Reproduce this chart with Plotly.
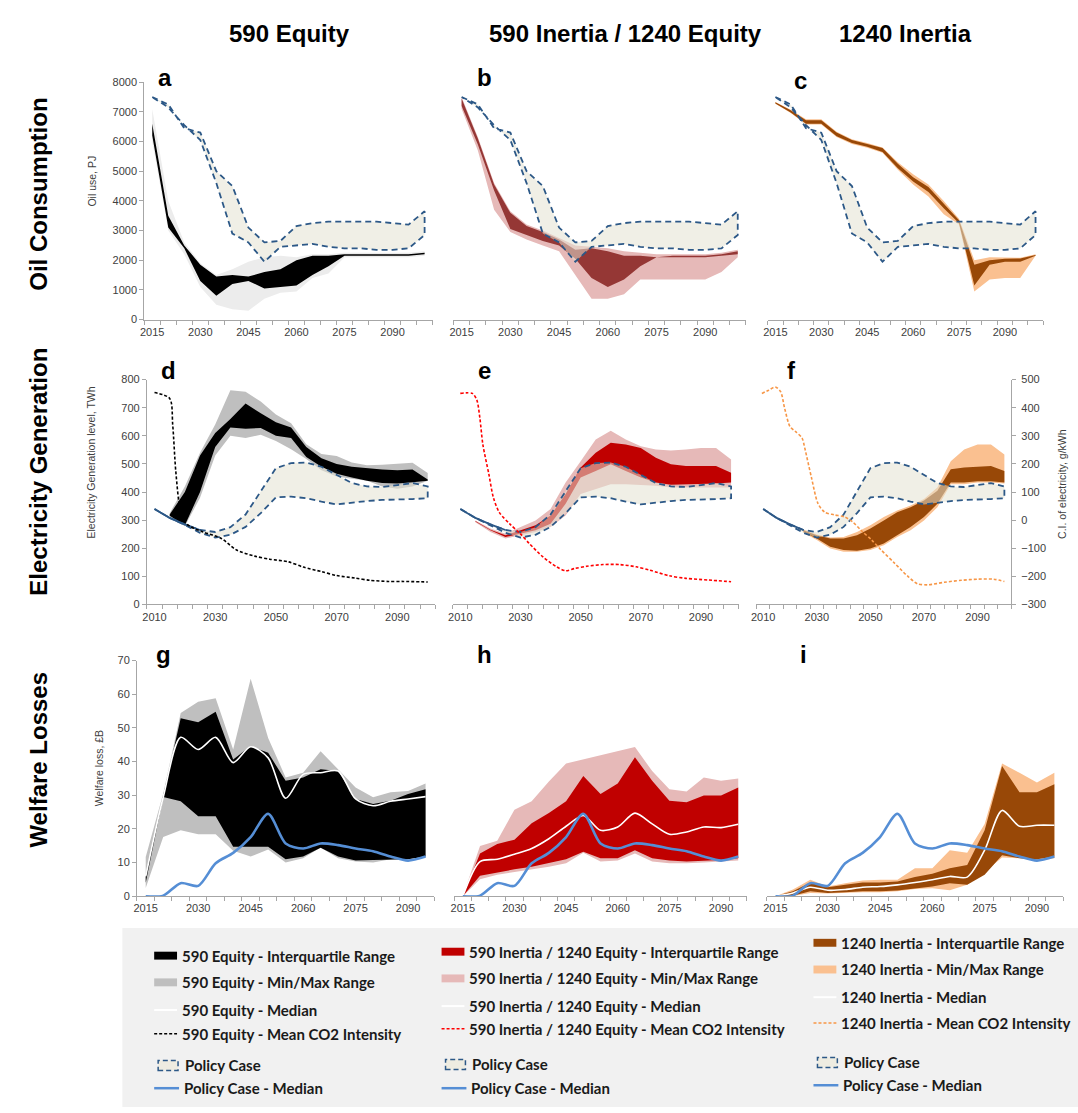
import plotly.graph_objects as go

W, H = 1078, 1113

# ---------------- categories ----------------
oil_years = list(range(2015, 2101, 5))      # 18 categories
elec_years = list(range(2010, 2101, 5))     # 19 categories
wel_years = list(range(2015, 2096, 5))      # 17 categories

oil_tick_labels = [2015, 2030, 2045, 2060, 2075, 2090]
elec_tick_labels = [2010, 2030, 2050, 2070, 2090]
wel_tick_labels = [2015, 2030, 2045, 2060, 2075, 2090]

# ---------------- Oil consumption (PJ) ----------------
oil_pol_hi = [7500, 7250, 6450, 6300, 5000, 4500, 3100, 2600, 2650, 3150, 3250, 3300, 3300, 3300, 3300, 3250, 3200, 3650]
oil_pol_lo = [7500, 7150, 6550, 6050, 4600, 2900, 2600, 1950, 2450, 2500, 2550, 2450, 2400, 2400, 2350, 2350, 2400, 2850]

a_iqr_hi = [6600, 3500, 2500, 1850, 1450, 1500, 1450, 1600, 1700, 2000, 2150, 2150, 2200, 2200, 2200, 2200, 2200, 2250]
a_iqr_lo = [6200, 3100, 2400, 1300, 800, 1200, 1300, 1050, 1100, 1150, 1500, 1800, 2150, 2150, 2150, 2150, 2150, 2200]
a_mm_hi = [7100, 4000, 2600, 1900, 1500, 1700, 1950, 2100, 2150, 2100, 2200, 2200, 2250, 2250, 2250, 2250, 2250, 2300]
a_mm_lo = [6000, 3000, 2200, 1100, 500, 350, 300, 700, 900, 950, 1400, 1550, 2100, 2100, 2100, 2100, 2100, 2150]

b_iqr_hi = [7450, 6100, 4550, 3600, 3150, 2950, 2700, 2350, 2400, 2300, 2150, 2150, 2100, 2150, 2150, 2150, 2200, 2300]
b_iqr_lo = [7200, 5900, 4350, 3050, 2850, 2650, 2500, 2050, 1400, 1100, 1350, 1800, 2100, 2100, 2100, 2100, 2150, 2200]
b_mm_hi = [7500, 6150, 4600, 3650, 3200, 3000, 2750, 2500, 2450, 2400, 2300, 2250, 2200, 2200, 2200, 2200, 2250, 2350]
b_mm_lo = [7100, 5700, 3700, 2950, 2700, 2500, 2300, 1500, 700, 700, 850, 1350, 1350, 1350, 1350, 1350, 1600, 2100]

c_iqr_hi = [7320, 7050, 6720, 6720, 6300, 6050, 5920, 5780, 5250, 4800, 4470, 3920, 3350, 1850, 2000, 2050, 2060, 2180]
c_iqr_lo = [7280, 6980, 6600, 6600, 6180, 5950, 5820, 5650, 5100, 4650, 4300, 3750, 3250, 1150, 1850, 1950, 1950, 2150]
c_mm_hi = [7330, 7070, 6750, 6750, 6330, 6080, 5950, 5800, 5300, 4900, 4550, 4000, 3400, 2000, 2100, 2080, 2080, 2200]
c_mm_lo = [7270, 6960, 6570, 6570, 6150, 5920, 5790, 5620, 5050, 4550, 4150, 3550, 3200, 950, 1350, 1400, 1400, 2150]

# ---------------- Electricity generation (TWh) ----------------
el_pol_hi = [340, 308, 285, 265, 258, 275, 320, 405, 485, 503, 505, 490, 462, 432, 420, 418, 425, 432, 420]
el_pol_lo = [340, 308, 283, 255, 238, 248, 276, 325, 381, 384, 378, 366, 356, 362, 368, 372, 374, 375, 378]

d_iqr_hi = [None, 320, 400, 530, 610, 660, 715, 680, 648, 630, 560, 520, 500, 490, 485, 480, 478, 480, 445]
d_iqr_lo = [None, 316, 282, 400, 560, 630, 625, 628, 600, 592, 525, 490, 465, 452, 440, 432, 430, 435, 440]
d_mm_hi = [None, 325, 420, 540, 640, 762, 757, 722, 676, 645, 570, 535, 528, 505, 495, 497, 500, 504, 468]
d_mm_lo = [None, 312, 278, 380, 530, 600, 592, 604, 582, 552, 518, 478, 455, 447, 440, 420, 412, 420, 440]

e_iqr_hi = [None, 297, 266, 246, 264, 282, 317, 393, 487, 540, 575, 569, 557, 522, 499, 493, 493, 493, 469]
e_iqr_lo = [None, 295, 264, 240, 252, 264, 287, 358, 452, 475, 499, 475, 452, 434, 426, 428, 428, 430, 434]
e_mm_hi = [None, 299, 270, 252, 276, 299, 340, 434, 510, 587, 618, 587, 563, 551, 548, 551, 557, 557, 516]
e_mm_lo = [None, 293, 258, 235, 246, 258, 276, 317, 393, 411, 428, 428, 426, 422, 416, 414, 416, 416, 416]

f_iqr_hi = [None, None, None, 264, 246, 235, 235, 246, 270, 299, 328, 346, 370, 405, 481, 487, 489, 493, 475]
f_iqr_lo = [None, None, None, 258, 235, 205, 194, 191, 199, 217, 246, 276, 311, 358, 434, 434, 438, 438, 434]
f_mm_hi = [None, None, None, 267, 249, 238, 240, 258, 282, 311, 334, 352, 375, 416, 510, 551, 569, 569, 534]
f_mm_lo = [None, None, None, 255, 229, 199, 188, 188, 194, 211, 240, 264, 299, 346, 428, 428, 434, 434, 430]

# mean CO2 intensity of electricity (g/kWh, right axis)
d_co2_years = [2010, 2015, 2016, 2017, 2018.5, 2020, 2022, 2026, 2032, 2037, 2043, 2048, 2054, 2059, 2065, 2070, 2076, 2081, 2087, 2092, 2100]
d_co2 = [454, 433, 339, 175, 34, -7, -24, -42, -65, -106, -128, -139, -148, -167, -183, -197, -206, -214, -218, -218, -220]
e_co2_years = [2010, 2014, 2015.5, 2016.5, 2017.5, 2019.5, 2021, 2023, 2026.5, 2030, 2033, 2037.5, 2042, 2045, 2048, 2052, 2057.5, 2063, 2068.5, 2073, 2079.5, 2085, 2092.5, 2100]
e_co2 = [451, 451, 427, 363, 269, 163, 80, 27, -14, -49, -84, -131, -166, -180, -172, -164, -158, -158, -166, -178, -198, -207, -213, -219]
f_co2_years = [2009.5, 2012, 2014.5, 2016.5, 2018, 2020, 2022, 2024.5, 2025.5, 2028, 2030.5, 2033, 2036.5, 2040.5, 2043.5, 2046.5, 2050.5, 2054, 2059, 2064, 2067.5, 2071.5, 2077.5, 2084, 2090, 2096, 2100]
f_co2 = [451, 462, 474, 457, 398, 333, 316, 292, 257, 152, 58, 28, 19, 11, -7, -36, -71, -106, -153, -200, -226, -230, -221, -214, -210, -210, -218]

# ---------------- Welfare losses (GBP bn) ----------------
wel_pol_med = [0, 0.2, 3.9, 3.1, 9.8, 12.9, 17.6, 24.5, 15.7, 14.2, 15.7, 15.2, 14.2, 13.4, 11.8, 10.6, 11.8]

g_iqr_hi = [6, 30, 52.9, 51.7, 54.8, 40.6, 44.6, 42.6, 34.3, 35.3, 37.7, 37.2, 28.9, 27.4, 28.4, 30.4, 31.8]
g_iqr_lo = [4, 29.5, 28.2, 23.8, 23.8, 14.7, 14.7, 14.7, 11, 11.8, 14.4, 11.8, 10.6, 10.8, 11, 11, 11.8]
g_mm_hi = [11.7, 30.5, 54.4, 57.8, 58.8, 43.6, 64.6, 47, 35.3, 36.7, 43.1, 37.8, 32.3, 29.4, 30.9, 31.3, 33.5]
g_mm_lo = [2.5, 17.6, 19.6, 18.4, 18.4, 13.5, 11.8, 13.9, 10, 11.3, 14.5, 11.3, 10.3, 10, 11, 11.3, 11.8]
g_med = [5.9, 29.4, 47.2, 43.6, 47.2, 39.7, 44.4, 41.1, 29.1, 36.2, 36.7, 37.2, 28.9, 26.9, 28.2, 28.9, 29.6]

h_iqr_hi = [0, 12.7, 15.5, 16.8, 21.7, 24.7, 28.2, 35.7, 30.4, 33.5, 41.3, 34.3, 28.4, 27.9, 29.9, 29.9, 32.3]
h_iqr_lo = [0, 6.1, 7.1, 8, 8.8, 9.8, 11, 13.2, 11.3, 11.3, 13.7, 11.3, 10.6, 10.3, 10.6, 10.8, 11.3]
h_mm_hi = [0, 14.9, 16.5, 25.7, 28.2, 34.1, 39.4, 40.6, 41.9, 42.9, 44.3, 37.2, 31.8, 31.1, 35.3, 34.3, 35]
h_mm_lo = [0, 5.1, 6.4, 7.3, 8, 8.8, 9.8, 12.9, 10.3, 10.6, 12.7, 10.3, 9.8, 9.8, 10, 10.2, 10.6]
h_med = [0, 10.3, 11, 12.5, 14.2, 17.1, 20.8, 24, 19.6, 20.6, 24.7, 21.5, 18.4, 19.1, 20.6, 20.4, 21.4]

i_iqr_hi = [0, 1.5, 4.1, 2.7, 3.4, 4.1, 4.1, 4.4, 5.7, 6.7, 8.3, 9.3, 19.6, 38.7, 30.9, 30.9, 33.3]
i_iqr_lo = [0, 0.2, 1.5, 1, 1.2, 1.5, 1.5, 1.7, 2.4, 2.9, 3.9, 3.4, 6.4, 12.2, 11.3, 11, 11.8]
i_mm_hi = [0, 2, 4.9, 2.9, 3.9, 4.7, 4.9, 4.9, 8.3, 8.3, 13.7, 12.9, 21.5, 39.4, 36.7, 33.8, 36.7]
i_mm_lo = [0, 0.1, 1, 0.8, 1, 1.2, 1.2, 1.5, 2.2, 2.4, 1.8, 3.4, 7.3, 11.5, 11.3, 10.6, 11.3]
i_med = [0, 1, 2.7, 1.8, 2, 2.7, 2.9, 3.4, 4.1, 4.9, 5.9, 5.7, 13.7, 25.5, 20.8, 21.1, 21.1]

# ---------------- text ----------------
col_titles = ["590 Equity", "590 Inertia / 1240 Equity", "1240 Inertia"]
row_titles = ["Oil Consumption", "Electricity Generation", "Welfare Losses"]
panel_letters = ["a", "b", "c", "d", "e", "f", "g", "h", "i"]
leg_labels = [
    ["590 Equity - Interquartile Range", "590 Equity - Min/Max Range", "590 Equity - Median", "590 Equity - Mean CO2 Intensity"],
    ["590 Inertia / 1240 Equity - Interquartile Range", "590 Inertia / 1240 Equity - Min/Max Range",
     "590 Inertia / 1240 Equity - Median", "590 Inertia / 1240 Equity - Mean CO2 Intensity"],
    ["1240 Inertia - Interquartile Range", "1240 Inertia - Min/Max Range", "1240 Inertia - Median", "1240 Inertia - Mean CO2 Intensity"],
]
pol_labels = ["Policy Case", "Policy Case - Median"]

# ---------------- style ----------------
FONT = "Liberation Sans, Arial, sans-serif"
LEGFONT = "Lato, Noto Sans, sans-serif"
TXT = "#404040"
AX = "#a6a6a6"
NAVY = "#2c5887"
POL_FILL = "rgba(228,225,210,0.55)"
POL_MED = "#558ed5"
IQR_COL = ["#000000", "#953735", "#984807", "#000000", "#c00000", "#984807", "#000000", "#c00000", "#984807"]
MM_COL = ["#ececec", "#e6b9b8", "#fac090", "#bfbfbf", "#e6b9b8", "#fac090", "#bfbfbf", "#e6b9b8", "#fac090"]
CO2_COL = ["#000000", "#ff0000", "#f79646"]
LEG_IQR = ["#000000", "#c00000", "#984807"]
LEG_MM = ["#bfbfbf", "#e6b9b8", "#fac090"]

fig = go.Figure()


def band(xs, lo, hi):
    pts = [(x, l, h) for x, l, h in zip(xs, lo, hi) if l is not None and h is not None]
    X = [p[0] for p in pts] + [p[0] for p in reversed(pts)]
    Y = [p[2] for p in pts] + [p[1] for p in reversed(pts)]
    return X, Y


def add_band(k, xs, lo, hi, color):
    X, Y = band(xs, lo, hi)
    fig.add_trace(go.Scatter(x=X, y=Y, xaxis=f"x{k}", yaxis=f"y{k}", mode="lines",
                             line=dict(width=0, color=color), fill="toself", fillcolor=color,
                             hoverinfo="skip", showlegend=False))


def add_policy(k, xs, lo, hi, solid_n=0):
    X, Y = band(xs, lo, hi)
    fig.add_trace(go.Scatter(x=X, y=Y, xaxis=f"x{k}", yaxis=f"y{k}", mode="lines",
                             line=dict(width=0), fill="toself", fillcolor=POL_FILL,
                             hoverinfo="skip", showlegend=False))
    fig.add_trace(go.Scatter(x=X + [X[0]], y=Y + [Y[0]], xaxis=f"x{k}", yaxis=f"y{k}", mode="lines",
                             line=dict(width=1.8, color=NAVY, dash="6px,4px"),
                             hoverinfo="skip", showlegend=False))
    if solid_n:
        fig.add_trace(go.Scatter(x=xs[:solid_n], y=hi[:solid_n], xaxis=f"x{k}", yaxis=f"y{k}", mode="lines",
                                 line=dict(width=1.8, color=NAVY), hoverinfo="skip", showlegend=False))


def add_line(k, xs, ys, color, width, dash=None, yax=None, shape="spline"):
    fig.add_trace(go.Scatter(x=xs, y=ys, xaxis=f"x{k}", yaxis=yax or f"y{k}", mode="lines",
                             line=dict(width=width, color=color, dash=dash, shape=shape, smoothing=0.8),
                             hoverinfo="skip", showlegend=False))


# Oil
for k, (mh, ml, ih, il) in enumerate([(a_mm_hi, a_mm_lo, a_iqr_hi, a_iqr_lo),
                                       (b_mm_hi, b_mm_lo, b_iqr_hi, b_iqr_lo),
                                       (c_mm_hi, c_mm_lo, c_iqr_hi, c_iqr_lo)], start=1):
    add_band(k, oil_years, ml, mh, MM_COL[k - 1])
    add_band(k, oil_years, il, ih, IQR_COL[k - 1])
    add_policy(k, oil_years, oil_pol_lo, oil_pol_hi)

# Electricity
co2_sets = [(d_co2_years, d_co2), (e_co2_years, e_co2), (f_co2_years, f_co2)]
for j, (mh, ml, ih, il) in enumerate([(d_mm_hi, d_mm_lo, d_iqr_hi, d_iqr_lo),
                                       (e_mm_hi, e_mm_lo, e_iqr_hi, e_iqr_lo),
                                       (f_mm_hi, f_mm_lo, f_iqr_hi, f_iqr_lo)]):
    k = 4 + j
    add_band(k, elec_years, ml, mh, MM_COL[k - 1])
    add_band(k, elec_years, il, ih, IQR_COL[k - 1])
    add_policy(k, elec_years, el_pol_lo, el_pol_hi, solid_n=4)
    cx, cy = co2_sets[j]
    add_line(k, cx, cy, CO2_COL[j], 1.6, dash="3px,2px", yax=f"y{10 + j}")

# Welfare
for j, (mh, ml, ih, il, md) in enumerate([(g_mm_hi, g_mm_lo, g_iqr_hi, g_iqr_lo, g_med),
                                           (h_mm_hi, h_mm_lo, h_iqr_hi, h_iqr_lo, h_med),
                                           (i_mm_hi, i_mm_lo, i_iqr_hi, i_iqr_lo, i_med)]):
    k = 7 + j
    add_band(k, wel_years, ml, mh, MM_COL[k - 1])
    add_band(k, wel_years, il, ih, IQR_COL[k - 1])
    add_line(k, wel_years, md, "#ffffff", 1.6)
    add_line(k, wel_years, wel_pol_med, POL_MED, 2.6)


# ---------------- axes ----------------
def px_x(a, b):
    return [a / W, b / W]


def px_y(top, bottom):
    return [1 - bottom / H, 1 - top / H]


x_dom = [px_x(139, 429), px_x(450, 744), px_x(766, 1043),
         px_x(141.7, 431.7), px_x(449.3, 736.7), px_x(754.7, 1010.7),
         px_x(131.7, 430.7), px_x(450.7, 745), px_x(765, 1063)]
y_dom = [px_y(77, 317)] * 3 + [px_y(377.7, 605)] * 3 + [px_y(661.7, 900)] * 3
x_rng = [[2012.5, 2102.5]] * 3 + [[2007.5, 2102.5]] * 3 + [[2012.5, 2097.5]] * 3
x_lab = [oil_tick_labels] * 3 + [elec_tick_labels] * 3 + [wel_tick_labels] * 3
y_rng = [[0, 8000]] * 3 + [[0, 800]] * 3 + [[0, 70]] * 3
y_dt = [1000] * 3 + [100] * 3 + [10] * 3
show_y = [True, False, False, True, False, False, True, False, False]

layout = dict(width=W, height=H, margin=dict(l=0, r=0, t=0, b=0), autosize=False,
              paper_bgcolor="white", plot_bgcolor="rgba(0,0,0,0)", showlegend=False)

for k in range(1, 10):
    layout[f"xaxis{k}"] = dict(
        domain=x_dom[k - 1], range=x_rng[k - 1], anchor=f"y{k}",
        tickmode="array", tickvals=x_lab[k - 1], ticktext=[str(v) for v in x_lab[k - 1]],
        ticks="", showline=True, linecolor=AX, linewidth=1, showgrid=False, zeroline=False,
        tickfont=dict(family=FONT, size=11, color=TXT), ticklabelstandoff=2,
        minor=dict(tickmode="linear", tick0=x_rng[k - 1][0], dtick=5, ticks="outside",
                   ticklen=4, tickcolor=AX, tickwidth=1, showgrid=False),
        fixedrange=True)
    yd = dict(domain=y_dom[k - 1], range=y_rng[k - 1], anchor=f"x{k}", showgrid=False,
              zeroline=False, fixedrange=True)
    if show_y[k - 1]:
        yd.update(tickmode="linear", tick0=0, dtick=y_dt[k - 1], showline=True, linecolor=AX,
                  linewidth=1, ticks="outside", ticklen=4, tickcolor=AX,
                  tickfont=dict(family=FONT, size=11, color=TXT))
    else:
        yd.update(visible=False)
    layout[f"yaxis{k}"] = yd

for j in range(3):
    k = 4 + j
    yd = dict(overlaying=f"y{k}", anchor=f"x{k}", side="right", range=[-300, 500],
              showgrid=False, zeroline=False, fixedrange=True)
    if j == 2:
        yd.update(tickmode="linear", tick0=-300, dtick=100, showline=True, linecolor=AX, linewidth=1,
                  ticks="outside", ticklen=4, tickcolor=AX, ticklabelstandoff=3,
                  tickfont=dict(family=FONT, size=11, color=TXT))
    else:
        yd.update(visible=False)
    layout[f"yaxis{10 + j}"] = yd

fig.update_layout(**layout)


# ---------------- annotations ----------------
def ann(x, y, text, size, bold=False, angle=0, family=FONT, color="#000000", xanchor="center", yanchor="middle"):
    fig.add_annotation(x=x / W, y=1 - y / H, xref="paper", yref="paper", text=f"<b>{text}</b>" if bold else text,
                       showarrow=False, textangle=angle, xanchor=xanchor, yanchor=yanchor,
                       font=dict(family=family, size=size, color=color))


for t, cx in zip(col_titles, [285, 623, 905]):
    ann(cx, 28, t, 24, bold=True)
for t, cy in zip(row_titles, [190, 471, 762]):
    ann(33, cy, t, 24, bold=True, angle=-90)
letter_pos = [(160, 72), (481, 72), (799, 75), (163, 368), (481, 368), (790, 368), (158, 656), (481, 656), (802, 656)]
for t, (lx, ly) in zip(panel_letters, letter_pos):
    ann(lx, ly, t, 24, bold=True)

ann(87, 177, "Oil use, PJ", 10.5, angle=-90, color=TXT)
ann(85, 462, "Electricity Generation level, TWh", 10.5, angle=-90, color=TXT)
ann(93, 770, "Welfare loss, £B", 10.5, angle=-90, color=TXT)
ann(1062, 483, "C.I. of electricity, g/kWh", 10.5, angle=-90, color=TXT)

# ---------------- legend block ----------------
shapes = [dict(type="rect", xref="paper", yref="paper", x0=117 / W, x1=1, y0=0, y1=1 - 932 / H,
               fillcolor="#f1f1f1", line=dict(width=0), layer="below")]


def sh_rect(x0, x1, y0, y1, fill, line=None):
    shapes.append(dict(type="rect", xref="paper", yref="paper", x0=x0 / W, x1=x1 / W,
                       y0=1 - y1 / H, y1=1 - y0 / H, fillcolor=fill,
                       line=line or dict(width=0)))


def sh_line(x0, x1, y, color, width, dash="solid"):
    shapes.append(dict(type="line", xref="paper", yref="paper", x0=x0 / W, x1=x1 / W,
                       y0=1 - y / H, y1=1 - y / H, line=dict(color=color, width=width, dash=dash)))


leg_x = [(149, 175), (438, 464), (812, 838)]
leg_rows = [[960, 987, 1015, 1039, 1071, 1094], [956, 983, 1011, 1034, 1070, 1094], [947, 974, 1002, 1028, 1068, 1091]]
for j in range(3):
    sx, tx = leg_x[j]
    r = leg_rows[j]
    sh_rect(sx, sx + 23, r[0] - 4, r[0] + 4, LEG_IQR[j])
    sh_rect(sx, sx + 23, r[1] - 4, r[1] + 4, LEG_MM[j])
    sh_line(sx, sx + 23, r[2], "#ffffff", 2)
    sh_line(sx, sx + 23, r[3], CO2_COL[j], 1.5, dash="3px,2px")
    sh_rect(sx + 4, sx + 24, r[4] - 5, r[4] + 5, "#eeece1", line=dict(color=NAVY, width=1.5, dash="5px,3px"))
    sh_line(sx, sx + 25, r[5], POL_MED, 2.5)
    for t, y in zip(leg_labels[j], r[:4]):
        ann(tx, y, t, 15, bold=True, family=LEGFONT, color="#1a1a1a", xanchor="left")
    ann(tx + 3, r[4], pol_labels[0], 15, bold=True, family=LEGFONT, color="#1a1a1a", xanchor="left")
    ann(tx + 2, r[5], pol_labels[1], 15, bold=True, family=LEGFONT, color="#1a1a1a", xanchor="left")

fig.update_layout(shapes=shapes)

fig.write_html(
    "out.html", config={"responsive": False, "displayModeBar": False},
    post_script=(
        "var d=document.getElementById('{plot_id}');"
        "d.style.position='absolute';d.style.left='0px';d.style.top='0px';"
        "document.body.style.margin='0';document.body.style.padding='0';"
        "document.body.style.overflow='hidden';document.documentElement.style.overflow='hidden';"
    ),
)
